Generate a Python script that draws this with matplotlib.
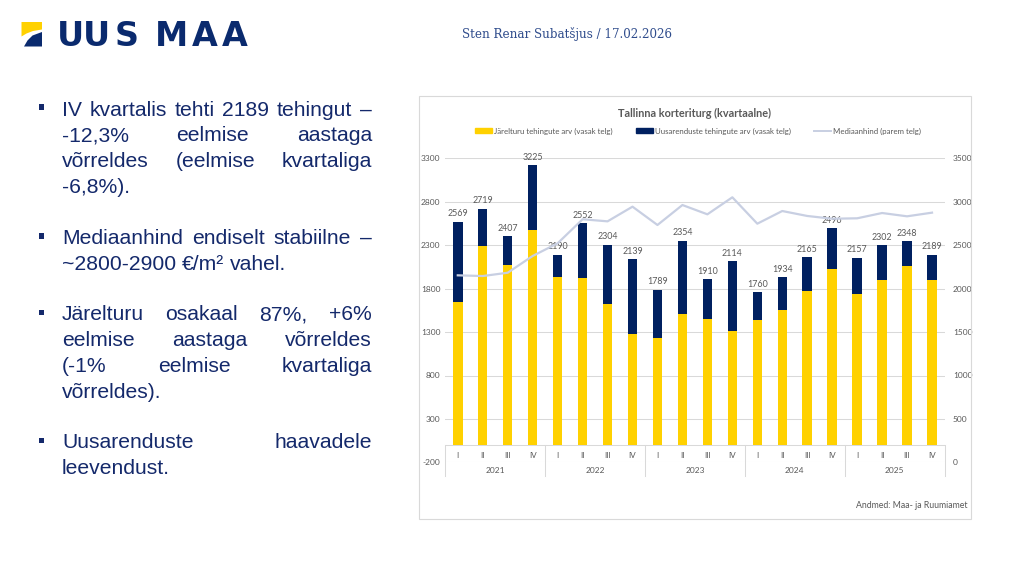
import matplotlib
matplotlib.use('Agg')
import matplotlib.pyplot as plt
from matplotlib.patches import Rectangle, Polygon, Patch
from matplotlib.lines import Line2D

# ---------------- data ----------------
years = ['2021', '2022', '2023', '2024', '2025']
quarters = ['I', 'II', 'III', 'IV']
totals = [2569, 2719, 2407, 3225, 2190, 2552, 2304, 2139, 1789, 2354,
          1910, 2114, 1760, 1934, 2165, 2496, 2157, 2302, 2348, 2189]
jarelturg = [1643, 2295, 2069, 2472, 1938, 1919, 1620, 1281, 1228, 1508,
             1450, 1309, 1443, 1551, 1770, 2023, 1742, 1896, 2058, 1900]
uusarendus = [926, 424, 338, 753, 252, 633, 684, 858, 561, 846,
              460, 805, 317, 383, 395, 473, 415, 406, 290, 289]
mediaanhind = [2154, 2146, 2184, 2377, 2523, 2800, 2776, 2945, 2734, 2964,
               2857, 3053, 2749, 2895, 2838, 2806, 2811, 2872, 2834, 2876]
left_ticks = [-200, 300, 800, 1300, 1800, 2300, 2800, 3300]
right_ticks = [0, 500, 1000, 1500, 2000, 2500, 3000, 3500]
legend_labels = ['Järelturu tehingute arv (vasak telg)',
                 'Uusarenduste tehingute arv (vasak telg)',
                 'Mediaanhind (parem telg)']
bullets = [
    ['IV kvartalis tehti 2189 tehingut –', '-12,3% eelmise aastaga',
     'võrreldes (eelmise kvartaliga', '-6,8%).'],
    ['Mediaanhind endiselt stabiilne –', '~2800-2900 €/m² vahel.'],
    ['Järelturu osakaal 87%, +6%', 'eelmise aastaga võrreldes',
     '(-1% eelmise kvartaliga', 'võrreldes).'],
    ['Uusarenduste haavadele', 'leevendust.'],
]

# ---------------- styles ----------------
W, H = 1024, 576
YELLOW = '#FFD100'
NAVY = '#002060'
LINE = '#C8CFE2'
GRID = '#D9D9D9'
GRAY = '#595959'
TXT_NAVY = '#14296B'
LOGO_NAVY = '#0A2A6E'
CF = ['Lato', 'DejaVu Sans']

fig = plt.figure(figsize=(W / 100, H / 100), dpi=100)
fig.patch.set_facecolor('white')


def fx(x):
    return x / W


def fy(y):
    return 1 - y / H


# ---------------- logo ----------------
fig.patches.append(Polygon([(fx(21.5), fy(22)), (fx(42), fy(22)), (fx(42), fy(29.5)),
                            (fx(33), fy(31)), (fx(26.5), fy(33.5)), (fx(21.5), fy(36.5))],
                           closed=True, transform=fig.transFigure, fc=YELLOW, ec='none'))
fig.patches.append(Polygon([(fx(24), fy(46.5)), (fx(27.5), fy(40.5)), (fx(32.5), fy(35.5)),
                            (fx(42), fy(32)), (fx(42), fy(46.5))],
                           closed=True, transform=fig.transFigure, fc=LOGO_NAVY, ec='none'))
logo_letters = ['U', 'U', 'S', 'M', 'A', 'A']
logo_centers = [70.5, 96, 127, 171, 204.5, 234.5]
for ch, cx in zip(logo_letters, logo_centers):
    fig.text(fx(cx), fy(46), ch, ha='center', va='baseline', fontsize=24,
             fontweight='heavy', family='DejaVu Sans', color=LOGO_NAVY)

renderer = fig.canvas.get_renderer()

# ---------------- header ----------------
hdr = fig.text(fx(462.5), fy(38), 'Sten Renar Subatšjus / 17.02.2026', ha='left',
               va='baseline', fontsize=9, family='DejaVu Serif', color='#2F4C8C')
w = hdr.get_window_extent(renderer).width
hdr.set_fontsize(9 * 209 / w)

# ---------------- bullet text (justified) ----------------
BFS = 15.2
x0, x1 = 62, 372
space_w = 0.278 * BFS * 100 / 72
first_baselines = [115.5, 244.0, 320.5, 448.5]
line_step = 25.8
for para, yb0 in zip(bullets, first_baselines):
    fig.patches.append(Rectangle((fx(38.5), fy(yb0 - 5.5)), 5.5 / W, 5.5 / H,
                                 transform=fig.transFigure, fc=TXT_NAVY, ec='none'))
    for li, line in enumerate(para):
        yb = yb0 + li * line_step
        words = line.split(' ')
        ts = [fig.text(0, 0, wd, ha='left', va='baseline', fontsize=BFS,
                       family=['Liberation Sans', 'DejaVu Sans'], color=TXT_NAVY)
              for wd in words]
        widths = [t.get_window_extent(renderer).width for t in ts]
        last = li == len(para) - 1
        if not last and len(words) > 1:
            gap = (x1 - x0 - sum(widths)) / (len(words) - 1)
        else:
            gap = space_w
        x = x0
        for t, wdt in zip(ts, widths):
            t.set_position((fx(x), fy(yb)))
            x += wdt + gap

# ---------------- chart frame ----------------
fig.patches.append(Rectangle((fx(419), fy(519)), (971 - 419) / W, (519 - 96) / H,
                             transform=fig.transFigure, fill=False, ec=GRID, lw=0.8))

ax_l, ax_r, ax_t, ax_b = 445.3, 944.5, 158.5, 462.3
ax = fig.add_axes([fx(ax_l), fy(ax_b), (ax_r - ax_l) / W, (ax_b - ax_t) / H])
x = list(range(len(totals)))
ax.bar(x, jarelturg, width=0.38, color=YELLOW, zorder=2)
top = ax.bar(x, uusarendus, bottom=jarelturg, width=0.38, color=NAVY, zorder=2)
ax.bar_label(top, labels=[str(t) for t in totals], padding=2.5, fontsize=6.4,
             color=GRAY, family=CF)
ax.set_xlim(-0.5, len(totals) - 0.5)
ax.set_ylim(-200, 3300)
ax.set_yticks(left_ticks)
ax.set_yticklabels([str(v) for v in left_ticks], fontsize=6, color=GRAY, family=CF)
ax.set_xticks([])
ax.tick_params(axis='y', length=0, pad=3.5)
ax.yaxis.grid(True, color=GRID, lw=0.75)
ax.set_axisbelow(True)
for s in ax.spines.values():
    s.set_visible(False)
ax.axhline(0, color=GRID, lw=0.75, zorder=1)

# multi-level category axis
bounds = [-0.5 + 4 * k for k in range(len(years) + 1)]
for b in bounds:
    ax.plot([b, b], [0, -355], color=GRID, lw=0.75, clip_on=False, zorder=1)
for i in x:
    ax.text(i, -124, quarters[i % 4], ha='center', va='center', fontsize=5.8,
            color=GRAY, family=CF)
for k, yr in enumerate(years):
    ax.text(4 * k + 1.5, -297, yr, ha='center', va='center', fontsize=6,
            color=GRAY, family=CF)

ax2 = ax.twinx()
ax2.plot(x, mediaanhind, color=LINE, lw=1.6, zorder=3)
ax2.set_ylim(0, 3500)
ax2.set_yticks(right_ticks)
ax2.set_yticklabels([str(v) for v in right_ticks], fontsize=6, color=GRAY, family=CF)
ax2.tick_params(axis='y', length=0, pad=6)
for s in ax2.spines.values():
    s.set_visible(False)

# title, legend, source
fig.text(fx(695), fy(113), 'Tallinna korteriturg (kvartaalne)', ha='center', va='center',
         fontsize=7.8, fontweight='bold', color=GRAY, family=CF)
handles = [Patch(color=YELLOW), Patch(color=NAVY), Line2D([], [], color=LINE, lw=1.4)]
fig.legend(handles, legend_labels, loc='center', bbox_to_anchor=(fx(698), fy(131)),
           ncol=3, frameon=False, prop={'family': CF, 'size': 5.7},
           labelcolor=GRAY, handlelength=2.2, handleheight=0.7, handletextpad=0.25,
           columnspacing=2.9)
fig.text(fx(968), fy(505), 'Andmed: Maa- ja Ruumiamet', ha='right', va='center',
         fontsize=6.3, color=GRAY, family=CF)

fig.savefig('out.png', dpi=100)
